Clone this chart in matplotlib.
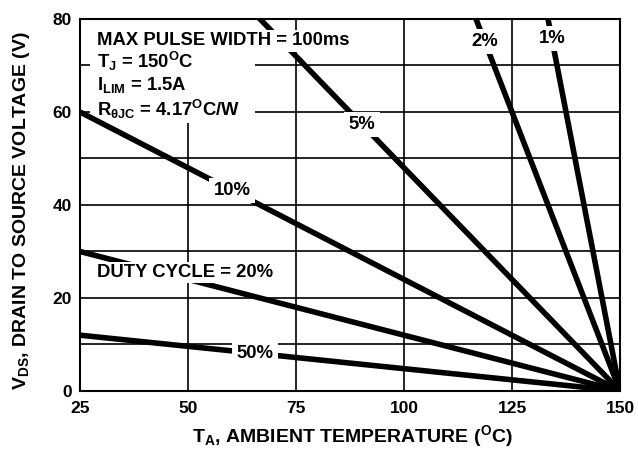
import matplotlib
matplotlib.use("Agg")
import matplotlib.pyplot as plt
from matplotlib.patches import Rectangle
import numpy as np

plt.rcParams['font.family'] = ['Liberation Sans', 'DejaVu Sans']
plt.rcParams['font.weight'] = 'bold'
plt.rcParams['mathtext.fontset'] = 'custom'
plt.rcParams['mathtext.rm'] = 'Liberation Sans:bold'
plt.rcParams['mathtext.it'] = 'Liberation Sans:bold'
plt.rcParams['mathtext.bf'] = 'Liberation Sans:bold'

# Data
duty_labels = ['1%', '2%', '5%', '10%', '20%', '50%']
v_at_25 = [600, 300, 120, 60, 30, 12]      # V_DS at T_A = 25 C
t_start, t_end = 25, 150                   # all curves reach 0 V at 150 C
label_x = [134.2, 118.7, 90.3, 60.2, None, 65.5]
x_ticks = [25, 50, 75, 100, 125, 150]
y_ticks = [0, 20, 40, 60, 80]

TXT = 13.3
fig = plt.figure(figsize=(6.38, 4.49), dpi=100)
ax = fig.add_axes([0.1254, 0.1292, 0.9718 - 0.1254, 0.9577 - 0.1292])
ax.set_xlim(25, 150)
ax.set_ylim(0, 80)
ax.set_xticks(x_ticks)
ax.set_yticks(y_ticks)
ax.set_yticks(np.arange(0, 81, 10), minor=True)
ax.grid(True, which='both', axis='y', color='black', linewidth=1.2)
ax.grid(True, which='major', axis='x', color='black', linewidth=1.2)
ax.tick_params(which='both', length=0)
ax.tick_params(axis='x', pad=7, labelsize=12.5)
ax.tick_params(axis='y', pad=6, labelsize=12.5)
for s in ax.spines.values():
    s.set_linewidth(1.5)
    s.set_zorder(5)

# white block behind the condition text
ax.add_patch(Rectangle((0.0185, 0.72), 0.305, 0.28, transform=ax.transAxes,
                       facecolor='white', edgecolor='none', zorder=1.8))

for lab, v25, lx in zip(duty_labels, v_at_25, label_x):
    ax.plot([t_start, t_end], [v25, 0], color='black', linewidth=4, zorder=2,
            solid_capstyle='butt')
    if lx is not None:
        ly = v25 * (t_end - lx) / (t_end - t_start)
        ax.text(lx, ly, lab, ha='center', va='center', fontsize=TXT,
                fontweight='bold', zorder=4,
                bbox=dict(facecolor='white', edgecolor='none', pad=3))

ax.text(28.9, 25.4, 'DUTY CYCLE = 20%', ha='left', va='center', fontsize=TXT,
        fontweight='bold', zorder=4,
        bbox=dict(facecolor='white', edgecolor='none', pad=1.5))

tb = dict(facecolor='white', edgecolor='none', pad=2)
ax.text(28.9, 75.3, 'MAX PULSE WIDTH = 100ms', ha='left', va='center',
        fontsize=TXT, fontweight='bold', zorder=4, bbox=tb)
ax.text(28.9, 70.8, 'T$_\\mathrm{J}$ = 150$^\\mathrm{O}$C', ha='left', va='center',
        fontsize=TXT, fontweight='bold', zorder=4)
ax.text(28.9, 65.8, 'I$_\\mathrm{LIM}$ = 1.5A', ha='left', va='center',
        fontsize=TXT, fontweight='bold', zorder=4)
ax.text(28.9, 60.6, 'R$_{\\theta\\mathrm{JC}}$ = 4.17$^\\mathrm{O}$C/W', ha='left', va='center',
        fontsize=TXT, fontweight='bold', zorder=4)

ax.set_xlabel('T$_\\mathrm{A}$, AMBIENT TEMPERATURE ($^\\mathrm{O}$C)', fontsize=14,
              fontweight='bold')
ax.set_ylabel('V$_\\mathrm{DS}$, DRAIN TO SOURCE VOLTAGE (V)', fontsize=14,
              fontweight='bold')
ax.xaxis.set_label_coords(0.505, -0.086)
ax.yaxis.set_label_coords(-0.089, 0.484)

fig.savefig('out.png', dpi=100)
